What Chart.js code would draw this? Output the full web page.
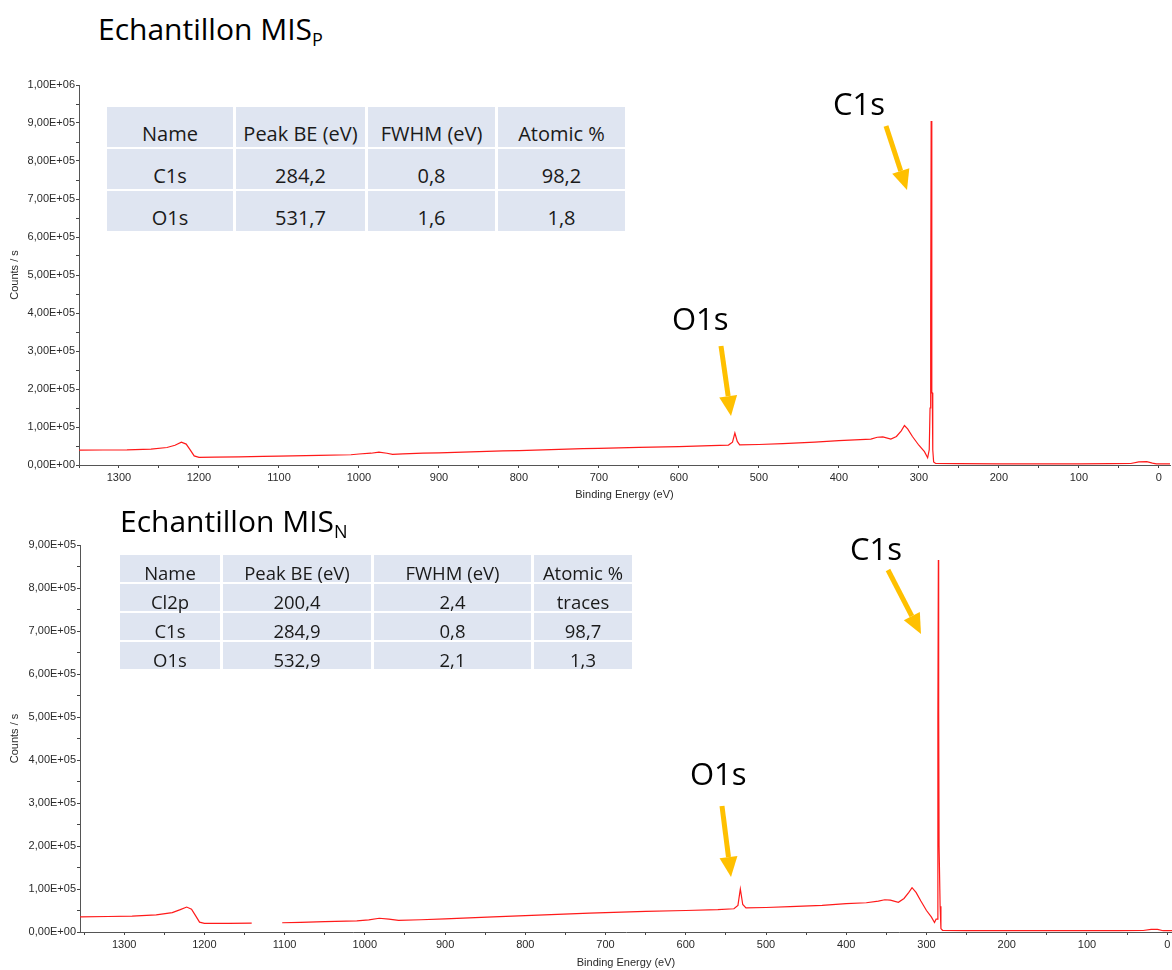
<!DOCTYPE html>
<html>
<head>
<meta charset="utf-8">
<script src="https://cdn.jsdelivr.net/npm/chart.js"></script>
<style>
  body { margin: 0; width: 1172px; height: 970px; background: #fff; position: relative; overflow: hidden; font-family: 'Open Sans', 'Noto Sans', sans-serif; }
  canvas { position: absolute; left: 0; }
  .title { position: absolute; font-size: 30px; line-height: 1; color: #000; white-space: nowrap; }
  .title .sub { font-size: 18px; position: relative; top: 6px; }
  .peak { position: absolute; font-size: 31px; line-height: 1; color: #000; }
  .tbl { position: absolute; display: grid; background: #fff; color: #1a1a1a; }
  .tbl div { background: #dfe5f1; display: flex; align-items: center; justify-content: center; white-space: nowrap; box-sizing: border-box; }
  #tableP div { padding-top: 12px; }
  #tableN div { padding-top: 7px; }
  #arrows { position: absolute; left: 0; top: 0; pointer-events: none; }
</style>
</head>
<body>
<canvas id="chartP" width="1172" height="432" style="top:70px"></canvas>
<canvas id="chartN" width="1172" height="440" style="top:530px"></canvas>

<div class="title" style="left:98px; top:14px">Echantillon MIS<span class="sub">P</span></div>
<div class="title" style="left:120px; top:506px">Echantillon MIS<span class="sub">N</span></div>

<div id="tableP" class="tbl" style="left:107px; top:107px; grid-template-columns:126px 129px 127px 127px; grid-auto-rows:40px; gap:2px 3px; font-size:20px"></div>
<div id="tableN" class="tbl" style="left:120px; top:555px; grid-template-columns:100px 148px 157px 98px; grid-auto-rows:27px; gap:2px 3px; font-size:18.5px"></div>

<div class="peak" style="left:833px; top:88px">C1s</div>
<div class="peak" style="left:672px; top:303px">O1s</div>
<div class="peak" style="left:850px; top:533px">C1s</div>
<div class="peak" style="left:690px; top:758px">O1s</div>

<svg id="arrows" width="1172" height="970"></svg>

<script>
// Echantillon MIS_P : spectre (énergie de liaison eV, coups/s)
const energyP = [1350, 1320, 1290, 1260, 1240, 1230, 1222, 1216, 1211, 1206, 1200, 1180, 1150, 1120, 1100, 1050, 1010, 1000, 985, 975, 965, 958, 945, 920, 900, 860, 820, 800, 760, 720, 700, 650, 600, 560, 538, 533, 530, 527, 524, 500, 470, 430, 400, 380, 360, 352, 345, 335, 328, 322, 318, 314, 308, 300, 293, 289, 287, 286, 285.2, 284.6, 284.0, 283.6, 283.2, 282.6, 281.5, 279, 250, 200, 150, 100, 60, 35, 25, 15, 8, 3, 0, -14];
const countsP = [39000, 39500, 40000, 42000, 46000, 52000, 60000, 55000, 40000, 24000, 20000, 20500, 21500, 22500, 23500, 25500, 27000, 29000, 31000, 34000, 31000, 28000, 29500, 31000, 32000, 34500, 37000, 38000, 40500, 43000, 44000, 46500, 48500, 51000, 52500, 60000, 84000, 62000, 53000, 54000, 56000, 60000, 64000, 66000, 68000, 73000, 74000, 68000, 75000, 90000, 104000, 95000, 75000, 52000, 35000, 19000, 40000, 150000, 400000, 905000, 400000, 190000, 190000, 40000, 8000, 4000, 3500, 3000, 3000, 3000, 3500, 4000, 8000, 9000, 5000, 3000, 3000, 3000];

// Echantillon MIS_N
const energyN = [1355, 1320, 1290, 1260, 1240, 1230, 1222, 1216, 1211, 1206, 1200, 1170, 1141, 1120, 1103, 1080, 1050, 1010, 995, 982, 970, 958, 930, 900, 870, 840, 800, 760, 720, 700, 650, 600, 560, 540, 535, 532, 529, 525, 500, 470, 430, 400, 375, 360, 352, 345, 335, 328, 322, 318, 313, 307, 300, 294, 290, 288, 286.5, 285.8, 285.2, 284.8, 284.3, 283.6, 283, 282, 280, 250, 200, 150, 100, 60, 30, 20, 12, 5, 0, -6];
const countsN = [35000, 36000, 37000, 40000, 45000, 52000, 58000, 53000, 38000, 23000, 20000, 20000, 20500, null, 21500, 22500, 24000, 26000, 28000, 32000, 30000, 27000, 28500, 30500, 33000, 35000, 38000, 41000, 44000, 45000, 48000, 50000, 52000, 54000, 62000, 100000, 64000, 56000, 57000, 59000, 62000, 66000, 68000, 72000, 75000, 74000, 69000, 78000, 92000, 103000, 92000, 72000, 50000, 35000, 22000, 30000, 30000, 500000, 865000, 520000, 200000, 200000, 60000, 8000, 4000, 3000, 3000, 3000, 3000, 3000, 3500, 6000, 6000, 3000, 3000, 3000];

// libellés des graduations
const yLabelsP = ['0,00E+00', '1,00E+05', '2,00E+05', '3,00E+05', '4,00E+05', '5,00E+05', '6,00E+05', '7,00E+05', '8,00E+05', '9,00E+05', '1,00E+06'];
const yLabelsN = ['0,00E+00', '1,00E+05', '2,00E+05', '3,00E+05', '4,00E+05', '5,00E+05', '6,00E+05', '7,00E+05', '8,00E+05', '9,00E+05'];
const xLabels = ['0', '100', '200', '300', '400', '500', '600', '700', '800', '900', '1000', '1100', '1200', '1300'];

// tableaux des pics
const tableHeader = ['Name', 'Peak BE (eV)', 'FWHM (eV)', 'Atomic %'];
const rowsP = [
    ['C1s', '284,2', '0,8', '98,2'],
    ['O1s', '531,7', '1,6', '1,8']
];
const rowsN = [
    ['Cl2p', '200,4', '2,4', 'traces'],
    ['C1s', '284,9', '0,8', '98,7'],
    ['O1s', '532,9', '2,1', '1,3']
];

Chart.defaults.font.family = "'Liberation Sans', Arial, sans-serif";
Chart.defaults.font.size = 11;
Chart.defaults.color = '#2a2a2a';

function buildTable(id, rows) {
    const el = document.getElementById(id);
    [tableHeader].concat(rows).forEach(r => {
        r.forEach(txt => {
            const c = document.createElement('div');
            c.textContent = txt;
            el.appendChild(c);
        });
    });
}

function drawSpectrum(canvasId, energy, counts, yLabels, opt) {
    const pts = energy.map((e, i) => ({ x: e, y: counts[i] }));
    new Chart(document.getElementById(canvasId), {
        type: 'line',
        data: {
            datasets: [{
                data: pts,
                borderColor: '#ff1a1a',
                borderWidth: 1.2,
                pointRadius: 0,
                tension: 0,
                fill: false
            }]
        },
        options: {
            responsive: false,
            animation: false,
            layout: { padding: { top: 15, right: opt.right, left: 0, bottom: 0 } },
            plugins: { legend: { display: false }, tooltip: { enabled: false } },
            scales: {
                x: {
                    type: 'linear',
                    reverse: true,
                    min: opt.xMin,
                    max: opt.xMax,
                    afterBuildTicks: s => {
                        const t = [];
                        for (let v = 0; v <= opt.xMax; v += 50) t.push({ value: v });
                        s.ticks = t;
                    },
                    afterFit: s => { s.height = opt.xHeight; },
                    border: { display: true, color: '#555', width: 1 },
                    grid: { drawOnChartArea: false, drawTicks: true, tickLength: 3, color: '#444' },
                    ticks: {
                        padding: 3,
                        maxRotation: 0,
                        autoSkip: false,
                        callback: v => (v % 100 === 0 ? xLabels[v / 100] : '')
                    },
                    title: { display: true, text: 'Binding Energy (eV)', padding: { top: 0, bottom: 0 } }
                },
                y: {
                    min: 0,
                    max: opt.yMax,
                    afterBuildTicks: s => {
                        const t = [];
                        for (let v = 0; v <= opt.yMax; v += 50000) t.push({ value: v });
                        s.ticks = t;
                    },
                    afterFit: s => { s.width = opt.yWidth; },
                    border: { display: true, color: '#555', width: 1 },
                    grid: { drawOnChartArea: false, drawTicks: true, tickLength: 3, color: '#444' },
                    ticks: {
                        padding: 1,
                        autoSkip: false,
                        callback: v => (v % 100000 === 0 ? yLabels[v / 100000] : '')
                    },
                    title: { display: true, text: 'Counts / s', padding: { top: 8, bottom: 0 } }
                }
            }
        }
    });
}

// flèches orange vers les pics
function drawArrow(svg, x1, y1, x2, y2) {
    const ang = Math.atan2(y2 - y1, x2 - x1);
    const head = 20, half = 9;
    const bx = x2 - head * Math.cos(ang), by = y2 - head * Math.sin(ang);
    const nx = -Math.sin(ang), ny = Math.cos(ang);
    const ns = 'http://www.w3.org/2000/svg';
    const line = document.createElementNS(ns, 'line');
    line.setAttribute('x1', x1); line.setAttribute('y1', y1);
    line.setAttribute('x2', bx); line.setAttribute('y2', by);
    line.setAttribute('stroke', '#FFC000'); line.setAttribute('stroke-width', 5);
    svg.appendChild(line);
    const tri = document.createElementNS(ns, 'polygon');
    tri.setAttribute('points', `${x2},${y2} ${bx + nx * half},${by + ny * half} ${bx - nx * half},${by - ny * half}`);
    tri.setAttribute('fill', '#FFC000');
    svg.appendChild(tri);
}

buildTable('tableP', rowsP);
buildTable('tableN', rowsN);

drawSpectrum('chartP', energyP, countsP, yLabelsP, { xMin: -14, xMax: 1350, yMax: 1000000, yWidth: 79, xHeight: 37, right: 2 });
drawSpectrum('chartN', energyN, countsN, yLabelsN, { xMin: -6, xMax: 1355, yMax: 900000, yWidth: 80, xHeight: 38, right: 0 });

const svg = document.getElementById('arrows');
drawArrow(svg, 886, 126, 907, 190);
drawArrow(svg, 721, 346, 731, 416);
drawArrow(svg, 888, 570, 921, 634);
drawArrow(svg, 722, 806, 731, 877);
</script>
</body>
</html>
